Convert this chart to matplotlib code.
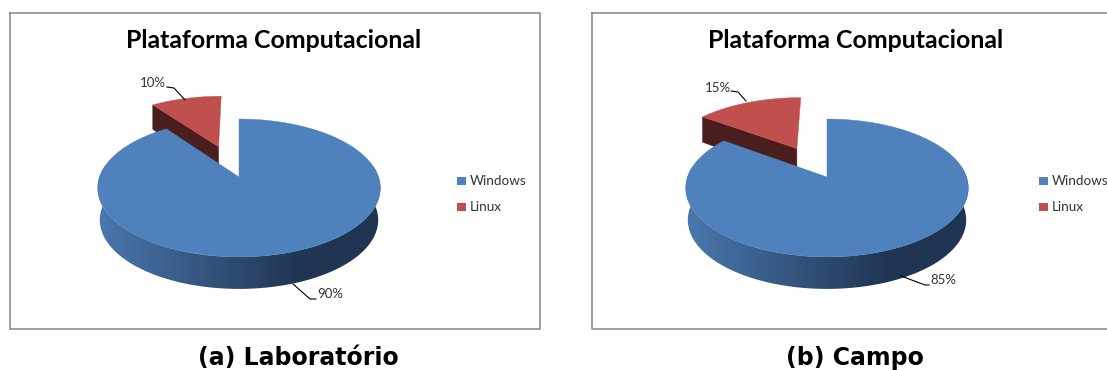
import numpy as np
import matplotlib
matplotlib.use('Agg')
import matplotlib.pyplot as plt
from matplotlib.colors import LinearSegmentedColormap
from matplotlib.patches import Polygon

categories = ['Windows', 'Linux']
lab_values = [90, 10]
campo_values = [85, 15]
chart_title = 'Plataforma Computacional'
captions = ['(a) Laboratório', '(b) Campo']
colors = ['#4f81bd', '#c0504d']

R = 139.5
K = 67.2
P = 0.159
H = 29.5
WALL = 32.0
EXPLODE = 0.51

wall_cmap = LinearSegmentedColormap.from_list('wall', ['#4a78ae', '#1f3552'])


# circle coordinates -> pixels, with a bit of perspective
def project(cx, cy, u, v, drop=0.0, shrink=1.0):
    s = 1.0 / (1.0 + P * v)
    return cx + shrink * R * u * s, cy - K * v * s + drop * s


def draw_pie(ax, cx, cy, values):
    total = float(sum(values))
    split = 2 * np.pi * values[0] / total
    mid = (split + 2 * np.pi) / 2

    # exploded slice, drawn first because the big one hides its foot
    du = EXPLODE * np.sin(mid)
    dv = EXPLODE * np.cos(mid)
    a = np.linspace(split, 2 * np.pi, 60)
    x, y = project(cx, cy, np.sin(a) + du, np.cos(a) + dv)
    x0, y0 = project(cx, cy, du, dv)
    x1, y1 = project(cx, cy, np.sin(split) + du, np.cos(split) + dv)
    x2, y2 = project(cx, cy, np.sin(split) + du, np.cos(split) + dv, drop=H)
    x3, y3 = project(cx, cy, du, dv, drop=H)
    ax.fill([x0, x1, x2, x3], [y0, y1, y2, y3], color='#4a1e1c', lw=0.3, zorder=2)
    ax.fill(np.r_[x0, x], np.r_[y0, y], color=colors[1], lw=0.3, zorder=3)

    # front wall of the big slice, gradient clipped to the wall outline
    th = np.radians(np.linspace(170, 370, 300))
    tx, ty = project(cx, cy, np.cos(th), np.sin(th))
    bx, by = project(cx, cy, np.cos(th), np.sin(th), shrink=0.985)
    by = by + WALL
    left = tx.min()
    right = tx.max()
    ramp = np.clip((np.linspace(left, right, 300) - left) / (0.72 * (right - left)), 0, 1)
    im = ax.imshow(ramp[None, :], extent=(left, right, by.max() + 1, ty.min() - 1), cmap=wall_cmap,
                   aspect='auto', zorder=4, vmin=0, vmax=1)
    wall = Polygon(np.c_[np.r_[tx, bx[::-1]], np.r_[ty, by[::-1]]], transform=ax.transData, fc='none', ec='none')
    ax.add_patch(wall)
    im.set_clip_path(wall)

    # top of the big slice
    a = np.linspace(0, split, 240)
    x, y = project(cx, cy, np.sin(a), np.cos(a))
    ax.fill(np.r_[cx, x], np.r_[cy, y], color=colors[0], lw=0.3, zorder=5)
    ax.plot([cx, cx], [cy, cy - 58], color='#1f3552', lw=0.5, zorder=4)


def draw_panel(ax, frame, cx, cy, values, title_x, caption, caption_x, leg_x, lead_big, lead_small, txt_big, txt_small):
    ax.plot([frame[0], frame[1], frame[1], frame[0], frame[0]],
            [frame[2], frame[2], frame[3], frame[3], frame[2]], color='#868686', lw=1.1)
    ax.text(title_x, 40, chart_title, fontfamily='Lato', fontweight='bold', fontsize=17.9,
            ha='center', va='center', color='black')
    draw_pie(ax, cx, cy, values)

    ax.plot(*zip(*lead_big), color='black', lw=0.8, zorder=6)
    ax.plot(*zip(*lead_small), color='black', lw=0.8, zorder=6)
    ax.text(txt_big[0], txt_big[1], '%d%%' % values[0], fontfamily='Lato', fontsize=9.5, color='#333333',
            ha='left', va='center')
    ax.text(txt_small[0], txt_small[1], '%d%%' % values[1], fontfamily='Lato', fontsize=9.5, color='#333333',
            ha='left', va='center')

    for i, name in enumerate(categories):
        y = 181 + i * 26
        ax.fill([leg_x, leg_x + 8.5, leg_x + 8.5, leg_x], [y - 4, y - 4, y + 4, y + 4], color=colors[i], lw=0)
        ax.text(leg_x + 12.5, y, name, fontfamily='Lato', fontsize=9.7, color='#333333', ha='left', va='center')

    ax.text(caption_x, 358, caption, fontfamily='DejaVu Sans', fontweight='bold', fontsize=17,
            ha='center', va='center', color='black')


fig = plt.figure(figsize=(11.07, 3.70), dpi=100)
ax = fig.add_axes([0, 0, 1, 1])

draw_panel(ax, (10, 540, 13, 329), 239, 177, lab_values, 273.5, captions[0], 298.5, 457,
           [(293, 284), (310, 299), (316, 299)], [(167, 87), (174, 88), (185, 100)], (317, 294), (140, 83))
draw_panel(ax, (592, 1115, 13, 329), 827, 177, campo_values, 856, captions[1], 855, 1039,
           [(901, 276), (925, 285), (929, 285)], [(731, 91), (738, 92), (746, 101)], (930, 280), (705, 88))

ax.set_xlim(0, 1107)
ax.set_ylim(370, 0)
ax.axis('off')

fig.savefig('out.png', dpi=100)
